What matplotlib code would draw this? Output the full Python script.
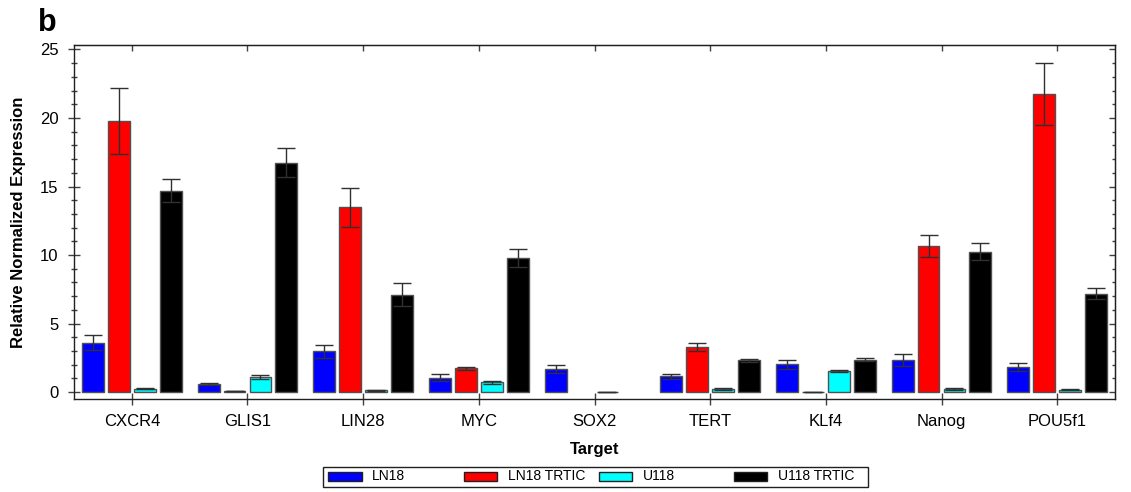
import matplotlib
matplotlib.use("Agg")
import matplotlib.pyplot as plt
import numpy as np
from matplotlib.patches import Rectangle
from matplotlib.ticker import MultipleLocator

plt.rcParams['font.family'] = ['Liberation Sans', 'DejaVu Sans']

targets = ["CXCR4", "GLIS1", "LIN28", "MYC", "SOX2", "TERT", "KLf4", "Nanog", "POU5f1"]
series = ["LN18", "LN18 TRTIC", "U118", "U118 TRTIC"]
colors = ["#0000ff", "#ff0000", "#00ffff", "#000000"]

ln18 = [3.62, 0.60, 2.97, 1.04, 1.69, 1.16, 2.03, 2.34, 1.83]
ln18_err = [0.58, 0.08, 0.50, 0.25, 0.30, 0.20, 0.33, 0.41, 0.31]
ln18_trtic = [19.78, 0.05, 13.48, 1.74, np.nan, 3.30, 0.04, 10.65, 21.74]
ln18_trtic_err = [2.39, 0.0, 1.40, 0.12, np.nan, 0.32, 0.0, 0.82, 2.25]
u118 = [0.25, 1.09, 0.14, 0.72, 0.02, 0.22, 1.52, 0.22, 0.17]
u118_err = [0.05, 0.15, 0.03, 0.12, 0.0, 0.07, 0.07, 0.05, 0.03]
u118_trtic = [14.71, 16.74, 7.10, 9.78, np.nan, 2.32, 2.36, 10.26, 7.17]
u118_trtic_err = [0.87, 1.06, 0.84, 0.68, np.nan, 0.12, 0.10, 0.63, 0.41]

values = [ln18, ln18_trtic, u118, u118_trtic]
errors = [ln18_err, ln18_trtic_err, u118_err, u118_trtic_err]

fig = plt.figure(figsize=(11.31, 4.92), dpi=100)
ax = fig.add_axes([74 / 1131, 1 - 399 / 492, (1115 - 74) / 1131, (399 - 44.7) / 492])

x = np.arange(len(targets))
step = 0.224
width = 0.188
for i, (vals, errs) in enumerate(zip(values, errors)):
    pos = x + (i - 1.5) * step
    ax.bar(pos, vals, width, color=colors[i], edgecolor="#505050", linewidth=1.0, zorder=2)
    ax.errorbar(pos, vals, yerr=errs, fmt="none", ecolor="#303030", elinewidth=1.0,
                capsize=6.5, capthick=1.0, zorder=3)

ax.set_xlim(-0.5, 8.5)
ax.set_ylim(-0.5, 25.35)
ax.set_xticks(x)
ax.set_xticklabels(targets, fontsize=12)
ax.yaxis.set_major_locator(MultipleLocator(5))
ax.yaxis.set_minor_locator(MultipleLocator(1))
ax.tick_params(axis="y", which="major", direction="inout", length=8, width=1, color="#404040",
               labelsize=12, pad=7)
ax.tick_params(axis="y", which="minor", direction="inout", length=4.5, width=1, color="#404040")
ax.tick_params(axis="x", which="major", direction="inout", length=9, width=1, color="#404040",
               pad=6)
for s in ax.spines.values():
    s.set_linewidth(1.0)
    s.set_color("#202020")

# inward ticks on the top and right edges
top = ax.secondary_xaxis("top")
top.set_xticks(x)
top.set_xticklabels([])
top.tick_params(direction="in", length=4.5, width=1, color="#404040")
right = ax.secondary_yaxis("right")
right.yaxis.set_major_locator(MultipleLocator(5))
right.yaxis.set_minor_locator(MultipleLocator(1))
right.set_yticklabels([])
right.tick_params(which="major", direction="in", length=4.5, width=1, color="#404040")
right.tick_params(which="minor", direction="in", length=2.5, width=1, color="#404040")

ax.set_ylabel("Relative Normalized Expression", fontsize=12, fontweight="bold", labelpad=10)
ax.set_xlabel("Target", fontsize=12, fontweight="bold", labelpad=10)

fig.text(38 / 1131, 1 - 8 / 492, "b", fontsize=22, fontweight="bold", va="top", ha="left")

# legend box with equally spaced entries
W, H = 1131, 492
fig.patches.append(Rectangle((322.7 / W, 1 - 487.3 / H), (868.3 - 322.7) / W, (487.3 - 466.7) / H,
                             transform=fig.transFigure, facecolor="white", edgecolor="#202020",
                             linewidth=1.0))
for i, name in enumerate(series):
    x0 = 328.3 + i * 135.2
    fig.patches.append(Rectangle((x0 / W, 1 - 480.7 / H), 33.4 / W, 8.4 / H,
                                 transform=fig.transFigure, facecolor=colors[i],
                                 edgecolor="#202020", linewidth=1.0))
    fig.text((x0 + 44) / W, 1 - 476.5 / H, name, fontsize=10, va="center", ha="left",
             family=["Liberation Sans Narrow", "Liberation Sans", "DejaVu Sans"])

fig.savefig("out.png", dpi=100)
